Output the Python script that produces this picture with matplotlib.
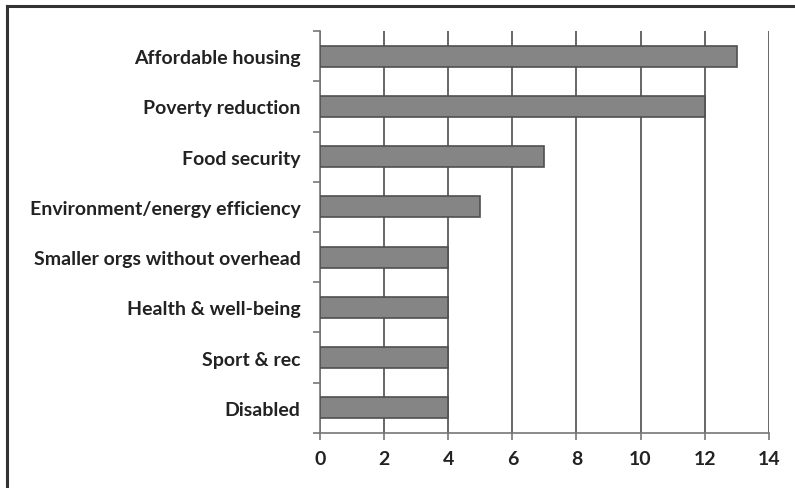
import matplotlib.pyplot as plt
from matplotlib.lines import Line2D

categories = ['Affordable housing', 'Poverty reduction', 'Food security',
              'Environment/energy efficiency', 'Smaller orgs without overhead',
              'Health & well-being', 'Sport & rec', 'Disabled']
values = [13, 12, 7, 5, 4, 4, 4, 4]
xticks = [0, 2, 4, 6, 8, 10, 12, 14]

plt.rcParams['font.family'] = ['Lato', 'DejaVu Sans']

fig = plt.figure(figsize=(7.95, 4.89), dpi=100)
ax = fig.add_axes([0.4025, 0.1125, 0.5645, 0.822])

pos = list(range(len(categories)))
ax.barh(pos, values, height=0.42, color='#858585', edgecolor='#505050',
        linewidth=1.2, zorder=3)

ax.set_ylim(len(categories) - 0.5, -0.5)
ax.set_xlim(0, 14)
ax.set_xticks(xticks)
ax.set_xticklabels([str(t) for t in xticks], fontsize=14, fontweight='bold',
                   color='#222222')
ax.set_yticks(pos)
ax.set_yticklabels(categories, fontsize=14, fontweight='bold', color='#222222')
ax.tick_params(axis='y', length=0, pad=14)
ax.set_yticks([p + 0.5 for p in [-1] + pos], minor=True)
ax.tick_params(axis='y', which='minor', length=5, color='#777777', width=1.2)
ax.tick_params(axis='x', length=5, color='#777777', width=1.2, pad=7)

ax.grid(axis='x', color='#5a5a5a', linewidth=1.3, zorder=0)
for s in ['top', 'right']:
    ax.spines[s].set_visible(False)
for s in ['left', 'bottom']:
    ax.spines[s].set_color('#777777')
    ax.spines[s].set_linewidth(1.2)

# scanned frame, left and top edge
fig.add_artist(Line2D([0.009, 0.009], [0.0, 0.986], color='#333333', linewidth=2.2,
                      transform=fig.transFigure))
fig.add_artist(Line2D([0.009, 1.0], [0.986, 0.986], color='#333333', linewidth=2.2,
                      transform=fig.transFigure))

fig.savefig('out.png', dpi=100, facecolor='white')
